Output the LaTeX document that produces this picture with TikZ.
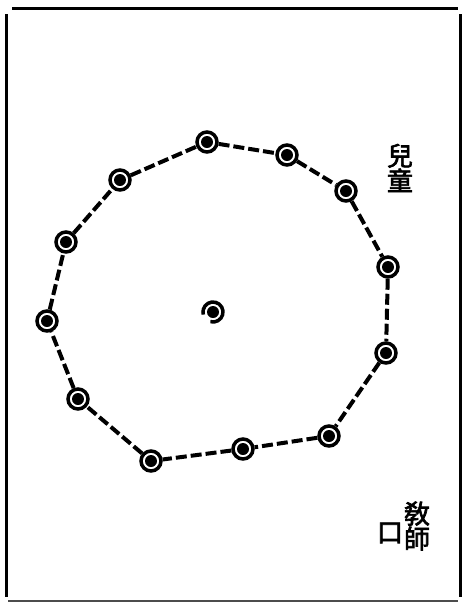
\documentclass[tikz,border=0pt]{standalone}
\usepackage{fontspec}
\newfontfamily\cjk[FakeBold=2.5]{Noto Sans CJK TC}
\usetikzlibrary{positioning}

\begin{document}
\begin{tikzpicture}[x=1pt,y=-1pt]
  \tikzstyle{child}=[circle,draw,line width=3.5pt,fill=white,minimum size=20pt,inner sep=0pt,
    path picture={\fill[black] (path picture bounding box.center) circle (6pt);}]
  \tikzstyle{ring}=[line width=4pt,dash pattern=on 11pt off 4pt]
  \tikzstyle{cjktext}=[font=\cjk\fontsize{26}{25}\selectfont,align=center,inner sep=0pt]
  \useasboundingbox (0,0) rectangle (464,603);
  % frame
  \draw[line width=3pt] (12,8) -- (458,8);
  \draw[line width=3pt] (6,14) -- (6,597);
  \draw[line width=3pt] (460,14) -- (460,597);
  \draw[line width=1.2pt,black!70] (8,601) -- (458,601);
  % children
  \node[child] (c1) at (207,142) {};
  \node[child] (c2) at (287,155) {};
  \node[child] (c3) at (346,191) {};
  \node[child] (c4) at (388,267) {};
  \node[child] (c5) at (386,353) {};
  \node[child] (c6) at (329,436) {};
  \node[child] (c7) at (243,449) {};
  \node[child] (c8) at (151,461) {};
  \node[child] (c9) at (78,399) {};
  \node[child] (c10) at (47,321) {};
  \node[child] (c11) at (66,242) {};
  \node[child] (c12) at (120,180) {};
  \foreach \a/\b in {c1/c2,c2/c3,c3/c4,c4/c5,c5/c6,c6/c7,c7/c8,c8/c9,c9/c10,c10/c11,c11/c12,c12/c1}
    \draw[ring] (\a) -- (\b);
  % centre
  \node[circle,fill,minimum size=12pt,inner sep=0pt] (ctr) at (213,312) {};
  \draw[line width=3.5pt] ([shift={(-105:10pt)}]ctr.center) arc[start angle=-105,end angle=195,radius=10pt];
  % legend
  \node[cjktext] (kids) at (400,168) {兒\\童};
  \node[cjktext] (teacher) at (417,526) {敎\\師};
  \node[cjktext] (mark) at (390,533) {口};
\end{tikzpicture}
\end{document}
